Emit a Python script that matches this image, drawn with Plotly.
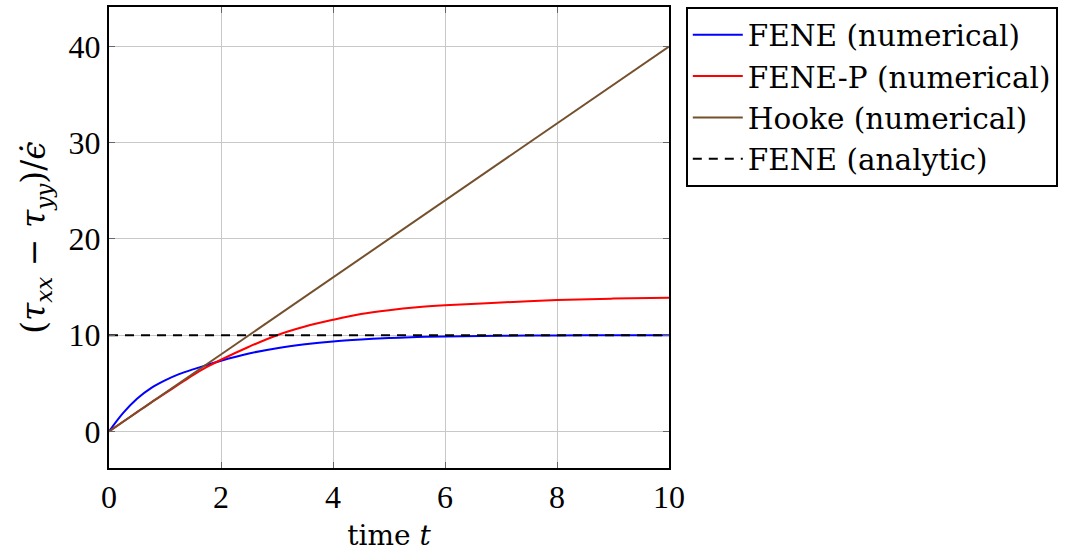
import plotly.graph_objects as go

t = [0, 0.25, 0.5, 0.75, 1, 1.25, 1.5, 1.75, 2, 2.5, 3, 3.5, 4, 4.5, 5, 5.5, 6, 7, 8, 9, 10]
fene_num = [0, 1.9, 3.4, 4.5, 5.3, 5.95, 6.45, 6.9, 7.35, 8.1, 8.65, 9.05, 9.35, 9.55, 9.7, 9.8, 9.87, 9.94, 9.97, 9.99, 10.0]
fenep_num = [0, 1.0, 2.0, 3.0, 3.95, 4.9, 5.85, 6.7, 7.45, 8.8, 10.0, 10.9, 11.6, 12.2, 12.6, 12.9, 13.1, 13.4, 13.65, 13.8, 13.9]
hooke_t = [0, 2, 4, 6, 8, 10]
hooke_num = [0, 8, 16, 24, 32, 40]
analytic_t = [0, 10]
fene_analytic = [10, 10]

x_ticks = [0, 2, 4, 6, 8, 10]
y_ticks = [0, 10, 20, 30, 40]

NUMFONT = "Liberation Serif"
TXTFONT = "DejaVu Serif"

fig = go.Figure()
fig.add_trace(go.Scatter(x=t, y=fene_num, mode="lines", name="FENE (numerical)",
                         line=dict(color="#0000ff", width=2, shape="spline")))
fig.add_trace(go.Scatter(x=t, y=fenep_num, mode="lines", name="FENE-P (numerical)",
                         line=dict(color="#ff0000", width=2, shape="spline")))
fig.add_trace(go.Scatter(x=hooke_t, y=hooke_num, mode="lines", name="Hooke (numerical)",
                         line=dict(color="#74502d", width=2)))
fig.add_trace(go.Scatter(x=analytic_t, y=fene_analytic, mode="lines", name="FENE (analytic)",
                         line=dict(color="black", width=2, dash="9px,7px")))

axis_common = dict(
    showgrid=True, gridcolor="#c8c8c8", gridwidth=1,
    showline=True, linecolor="black", linewidth=2, mirror="allticks",
    ticks="inside", ticklen=6, tickcolor="#666666", tickwidth=1,
    zeroline=False,
    tickfont=dict(family=NUMFONT, size=32, color="black"),
)

fig.update_layout(
    width=1065, height=554,
    margin=dict(l=109, r=396, t=5, b=86),
    paper_bgcolor="white", plot_bgcolor="white",
    font=dict(family=TXTFONT, size=29, color="black"),
    xaxis=dict(range=[0, 10], tickvals=x_ticks,
               title=dict(text="time <i>t</i>", font=dict(family=TXTFONT, size=28), standoff=11),
               **axis_common),
    yaxis=dict(range=[-3.8, 44.1], tickvals=y_ticks,
               title=dict(text="(<i>τ</i><sub><i>xx</i></sub> − <i>τ</i><sub><i>yy</i></sub>)/<i>ϵ̇</i>",
                          font=dict(family=TXTFONT, size=33), standoff=13),
               **axis_common),
    legend=dict(x=1.03, y=1.0, xanchor="left", yanchor="top",
                bordercolor="black", borderwidth=2, bgcolor="white",
                font=dict(family=TXTFONT, size=29.5), itemwidth=50,
                tracegroupgap=0),
    showlegend=True,
)

fig.write_html("out.html", config={"displayModeBar": False},
               post_script="document.body.style.margin='0';")
